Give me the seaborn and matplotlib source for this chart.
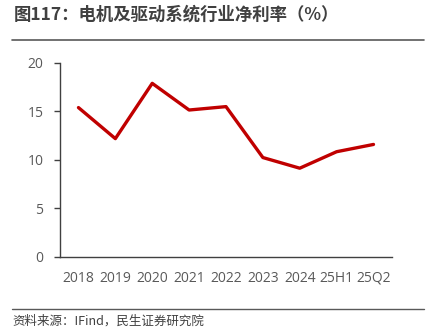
import matplotlib
matplotlib.use("Agg")
import matplotlib.pyplot as plt
import seaborn as sns
import pandas as pd
from matplotlib.lines import Line2D

categories = ["2018", "2019", "2020", "2021", "2022", "2023", "2024", "25H1", "25Q2"]
net_margin = [15.4, 12.2, 17.9, 15.15, 15.5, 10.25, 9.15, 10.85, 11.6]
yticks = [0, 5, 10, 15, 20]
title = "图117：电机及驱动系统行业净利率（%）"
source = "资料来源：IFind，民生证券研究院"

sns.set_theme(style="white")
plt.rcParams['font.family'] = ['Noto Sans CJK SC', 'DejaVu Sans']

df = pd.DataFrame({"cat": categories, "val": net_margin})
df["x"] = range(len(categories))

fig = plt.figure(figsize=(4.35, 3.35), dpi=100)
ax = fig.add_axes([0.138, 0.233, 0.763, 0.579])
sns.lineplot(data=df, x="x", y="val", ax=ax, color="#C00000", linewidth=2.4)
ax.set_xlim(-0.5, len(categories) - 0.5)
ax.set_ylim(0, 20)
ax.set_yticks(yticks)
ax.set_xticks(df["x"])
ax.set_xticklabels(categories)
ax.set_xlabel("")
ax.set_ylabel("")
for s in ["top", "right"]:
    ax.spines[s].set_visible(False)
for s in ["left", "bottom"]:
    ax.spines[s].set_color("#404040")
    ax.spines[s].set_linewidth(1.0)
ax.tick_params(axis="y", left=True, length=4, width=1, color="#404040", labelsize=10, labelcolor="#595959", pad=8)
ax.tick_params(axis="x", bottom=False, labelsize=10, labelcolor="#595959", pad=4)
for lab in ax.get_xticklabels() + ax.get_yticklabels():
    lab.set_family(["Open Sans", "DejaVu Sans"])

fig.text(0.032, 0.955, title, fontsize=12.5, fontweight="bold", color="#404040", va="center", ha="left")
fig.add_artist(Line2D([0.028, 0.975], [0.881, 0.881], color="#595959", linewidth=1.2, transform=fig.transFigure))
fig.add_artist(Line2D([0.028, 0.975], [0.078, 0.078], color="#595959", linewidth=1.0, transform=fig.transFigure))
fig.text(0.028, 0.042, source, fontsize=9, color="#404040", va="center", ha="left")

fig.savefig("out.png", dpi=100)
